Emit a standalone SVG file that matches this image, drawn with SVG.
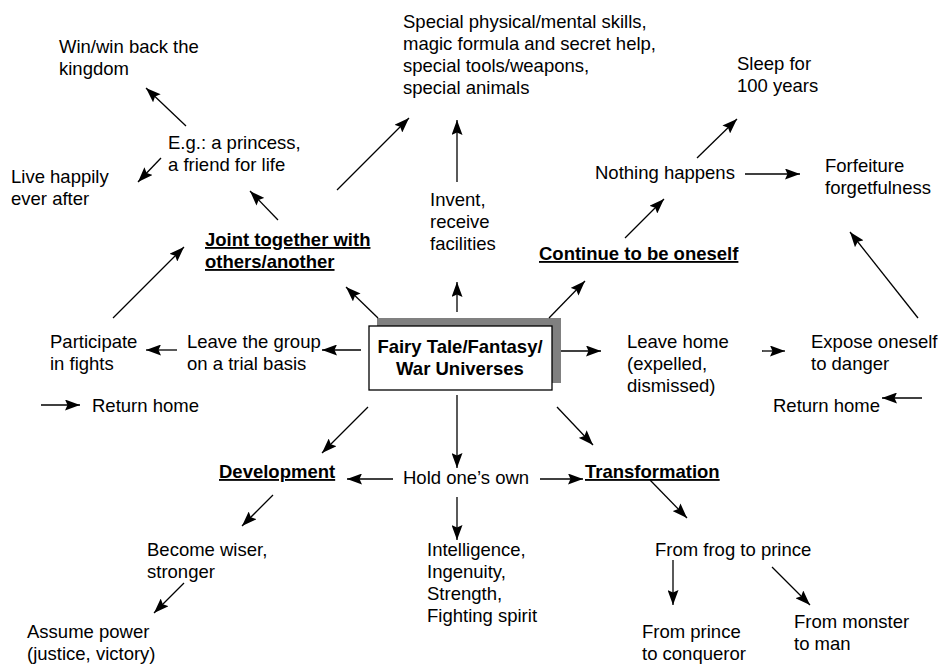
<svg xmlns="http://www.w3.org/2000/svg" width="941" height="666" viewBox="0 0 941 666">
  <style>
    text { font-family: "Liberation Sans", Arial, sans-serif; font-size: 18.5px; fill: #000; }
    .b { font-weight: bold; text-decoration: underline; }
    .hub { font-weight: bold; text-anchor: middle; }
    .c { stroke: #000; stroke-width: 1.3; fill: none; marker-end: url(#ah); }
  </style>
  <defs>
    <marker id="ah" markerUnits="userSpaceOnUse" markerWidth="15" markerHeight="11" viewBox="0 0 15 11" refX="15" refY="5.5" orient="auto">
      <path d="M0,0 L15,5.5 L0,11 L2.5,5.5 z" fill="#000"/>
    </marker>
  </defs>

  <rect width="941" height="666" fill="#fff"/>

  <!-- central node with its offset grey shadow -->
  <g id="hub">
    <rect x="377" y="318" width="184" height="65" fill="#808080"/>
    <rect x="369" y="326" width="183" height="64" fill="#fff" stroke="#000" stroke-width="1.3"/>
    <text class="hub" x="460" y="353">Fairy Tale/Fantasy/</text>
    <text class="hub" x="460" y="375">War Universes</text>
  </g>

  <g id="win-kingdom"><text x="59" y="53">Win/win back the</text><text x="59" y="75">kingdom</text></g>
  <g id="princess"><text x="168" y="149">E.g.: a princess,</text><text x="168" y="171">a friend for life</text></g>
  <g id="live-happily"><text x="11" y="183">Live happily</text><text x="11" y="205">ever after</text></g>
  <g id="special">
    <text x="403" y="28">Special physical/mental skills,</text>
    <text x="403" y="50">magic formula and secret help,</text>
    <text x="403" y="72">special tools/weapons,</text>
    <text x="403" y="94">special animals</text>
  </g>
  <g id="sleep"><text x="737" y="70">Sleep for</text><text x="737" y="92">100 years</text></g>
  <g id="nothing"><text x="595" y="179">Nothing happens</text></g>
  <g id="forfeiture"><text x="825" y="172">Forfeiture</text><text x="825" y="194">forgetfulness</text></g>
  <g id="invent"><text x="430" y="206">Invent,</text><text x="430" y="228">receive</text><text x="430" y="250">facilities</text></g>
  <g id="joint"><text class="b" x="205" y="246">Joint together with</text><text class="b" x="205" y="268">others/another</text></g>
  <g id="continue"><text class="b" x="539" y="260">Continue to be oneself</text></g>
  <g id="participate"><text x="50" y="348">Participate</text><text x="50" y="370">in fights</text></g>
  <g id="leave-group"><text x="187" y="348">Leave the group</text><text x="187" y="370">on a trial basis</text></g>
  <g id="return-left"><text x="92" y="412">Return home</text></g>
  <g id="leave-home"><text x="627" y="348">Leave home</text><text x="627" y="370">(expelled,</text><text x="627" y="392">dismissed)</text></g>
  <g id="expose"><text x="811" y="348">Expose oneself</text><text x="811" y="370">to danger</text></g>
  <g id="return-right"><text x="773" y="412">Return home</text></g>
  <g id="development"><text class="b" x="219" y="478">Development</text></g>
  <g id="hold"><text x="403" y="484">Hold one’s own</text></g>
  <g id="transformation"><text class="b" x="585" y="478">Transformation</text></g>
  <g id="qualities">
    <text x="427" y="556">Intelligence,</text>
    <text x="427" y="578">Ingenuity,</text>
    <text x="427" y="600">Strength,</text>
    <text x="427" y="622">Fighting spirit</text>
  </g>
  <g id="frog"><text x="655" y="556">From frog to prince</text></g>
  <g id="prince-conqueror"><text x="642" y="638">From prince</text><text x="642" y="660">to conqueror</text></g>
  <g id="monster-man"><text x="794" y="628">From monster</text><text x="794" y="650">to man</text></g>
  <g id="wiser"><text x="147" y="556">Become wiser,</text><text x="147" y="578">stronger</text></g>
  <g id="power"><text x="27" y="638">Assume power</text><text x="27" y="660">(justice, victory)</text></g>

  <!-- connectors -->
  <g id="connectors">
    <line class="c" x1="186" y1="126" x2="146" y2="88"/>
    <line class="c" x1="161" y1="158" x2="138" y2="182"/>
    <line class="c" x1="278" y1="220" x2="250" y2="191"/>
    <line class="c" x1="337" y1="190" x2="409" y2="118"/>
    <line class="c" x1="457" y1="182" x2="457" y2="120"/>
    <line class="c" x1="457" y1="312" x2="457" y2="282"/>
    <line class="c" x1="378" y1="318" x2="346" y2="287"/>
    <line class="c" x1="113" y1="318" x2="184" y2="247"/>
    <line class="c" x1="549" y1="318" x2="585" y2="281"/>
    <line class="c" x1="625" y1="238" x2="664" y2="199"/>
    <line class="c" x1="697" y1="158" x2="737" y2="119"/>
    <line class="c" x1="745" y1="174" x2="800" y2="174"/>
    <line class="c" x1="918" y1="318" x2="850" y2="232"/>
    <line class="c" x1="361" y1="350" x2="322" y2="350"/>
    <line class="c" x1="177" y1="350" x2="146" y2="350"/>
    <line class="c" x1="41" y1="405" x2="80" y2="405"/>
    <line class="c" x1="561" y1="351" x2="601" y2="351"/>
    <line class="c" x1="762" y1="351" x2="785" y2="351"/>
    <line class="c" x1="922" y1="398" x2="882" y2="398"/>
    <line class="c" x1="368" y1="407" x2="322" y2="453"/>
    <line class="c" x1="457" y1="395" x2="457" y2="468"/>
    <line class="c" x1="557" y1="407" x2="593" y2="445"/>
    <line class="c" x1="393" y1="479" x2="347" y2="479"/>
    <line class="c" x1="540" y1="479" x2="583" y2="479"/>
    <line class="c" x1="650" y1="480" x2="687" y2="518"/>
    <line class="c" x1="457" y1="497" x2="457" y2="540"/>
    <line class="c" x1="673" y1="560" x2="673" y2="605"/>
    <line class="c" x1="772" y1="567" x2="810" y2="605"/>
    <line class="c" x1="273" y1="495" x2="242" y2="526"/>
    <line class="c" x1="184" y1="583" x2="154" y2="613"/>
  </g>
</svg>
